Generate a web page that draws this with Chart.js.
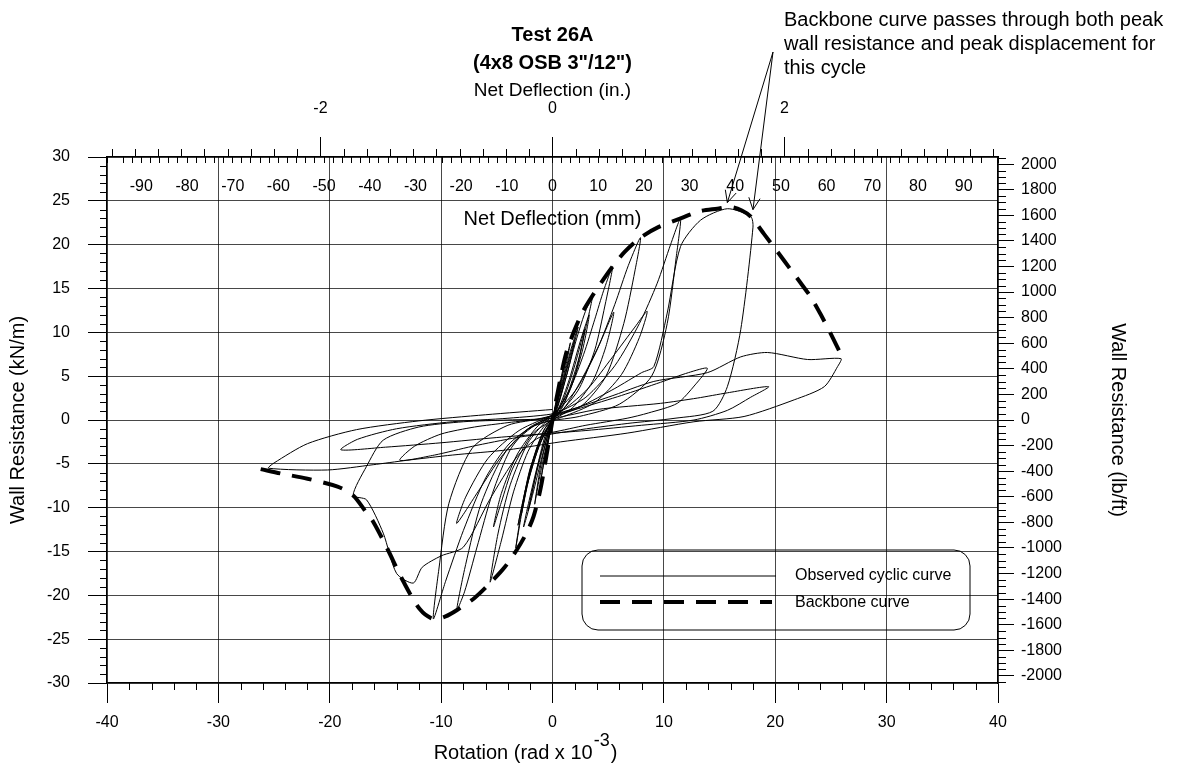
<!DOCTYPE html>
<html>
<head>
<meta charset="utf-8">
<title>Test 26A</title>
<script src="https://cdn.jsdelivr.net/npm/chart.js@4.4.1/dist/chart.umd.min.js"></script>
<style>
  html, body { margin: 0; padding: 0; background: #fff; }
  #wrap { width: 1187px; height: 771px; }
</style>
</head>
<body>
<div id="wrap"><canvas id="hysteresis" width="1187" height="771"></canvas></div>
<script>
// points are [rotation (rad x 10^-3), wall resistance (kN/m)]
var cycle1 = [[0,0],[0.3,2],[0.7,4.5],[0.5,3],[0.1,0.5],[-0.3,-2],[-0.7,-4.8],[-0.5,-3.2],[-0.1,-0.6]];
var cycle2 = [[0.4,2.5],[1.1,6.8],[0.8,4.6],[0.3,1.6],[-0.2,-0.8],[-0.6,-3.6],[-1.1,-7.2],[-0.8,-5],[-0.3,-1.8]];
var cycle3 = [[0.2,0.8],[0.8,4.5],[1.6,8.8],[1.2,6.2],[0.6,3],[0,0.3],[-0.5,-2],[-1.1,-5.5],[-1.6,-9.6],[-1.2,-6.8],[-0.6,-3.2]];
var cycle4 = [[0,-0.2],[0.9,4.2],[1.6,7.8],[2.3,10.6],[1.8,8],[1,4.5],[0.2,1],[-0.6,-1.5],[-1.3,-5],[-2.1,-10],[-2.6,-12.2],[-2.1,-9.2],[-1.3,-5],[-0.4,-1.2]];
var cycle4b = [[0.6,2.2],[1.4,6.5],[2,9.2],[1.5,6.2],[0.7,2.6],[-0.1,-0.4],[-0.9,-4],[-1.8,-8.6],[-2.2,-10.4],[-1.7,-7.4],[-0.9,-3.4],[-0.2,-0.4]];
var cycle5 = [[0.4,1.2],[1.2,4.8],[2.1,9],[2.9,12.2],[3.6,14.2],[2.9,10],[2.1,5.5],[1.1,2],[0.4,0.4],[-0.6,-1.2],[-2,-5.5],[-2.8,-10.5],[-3.3,-14.6],[-2.7,-10.2],[-1.8,-5],[-0.7,-1]];
var cycle6 = [[0.5,1.2],[1.5,4.6],[2.5,9],[3.3,12],[2.7,8],[1.6,3.5],[0.4,0.6],[-0.8,-1.2],[-2,-5.6],[-3.1,-12],[-2.4,-7.8],[-1.2,-2.5]];
var cycle6b = [[0.8,1.8],[1.9,5.8],[2.9,10.4],[2.4,7.2],[1.4,3.2],[0.2,0.4],[-1.1,-2.6],[-2.3,-7.6],[-2.8,-10.8],[-2.2,-7],[-1.2,-3],[-0.2,-0.3]];
var cycle7 = [[0.3,0.8],[1.6,3.6],[2.8,7.5],[3.8,11.5],[4.6,14.8],[5.4,17.5],[4.7,13],[3.8,8],[2.4,3.6],[0.8,1],[-0.8,-0.8],[-2.2,-3.6],[-3.5,-8.2],[-4.6,-13.8],[-5.6,-18.5],[-4.9,-13],[-3.8,-7.4],[-2.2,-2.6],[-0.6,-0.2]];
var cycle8 = [[1,1.3],[2.6,4.6],[4.2,8.6],[5.5,12.3],[4.8,8.4],[3.6,4.4],[1.8,1.4],[0,0],[-1.8,-1.6],[-3.6,-5.6],[-4.6,-9.4],[-5.3,-12.2],[-4.6,-8.4],[-3.2,-4],[-1.4,-0.8]];
var cycle9 = [[0.4,1],[2.2,3.6],[4,8],[5.6,13.2],[6.8,17.6],[7.9,20.8],[7.4,17],[6.4,11],[4.8,5],[2.6,1.6],[0,0.3],[-2,-0.8],[-3.8,-3.4],[-5.4,-8.4],[-6.8,-14.6],[-7.9,-19.6],[-8.6,-21.7],[-7.8,-16.5],[-6.4,-9.5],[-4.2,-3.6],[-1.6,-0.6]];
var cycle10 = [[1,1.2],[3.2,3.6],[5.4,7.2],[7.4,10.6],[8.5,12.4],[7.8,9.4],[6.2,5.2],[3.8,2],[0.8,0.3],[-2.2,-1],[-4.6,-4.2],[-6.6,-8],[-8.6,-11.8],[-7.8,-8.8],[-5.8,-4.4],[-3,-1.2]];
var cycle11 = [[0.4,0.8],[3,2.6],[5.6,6.2],[7.8,11],[9.4,15.6],[10.6,20],[11.5,23],[11.1,18.5],[10.3,11],[8.9,5],[6,1.8],[2.4,0.4],[-1.2,-0.4],[-3.8,-2.6],[-6,-6.6],[-8,-12.6],[-9.6,-18.4],[-10.7,-22.7],[-10.2,-17],[-9.3,-9.5],[-7.2,-3.2],[-4,-0.6]];
var cycle12 = [[-0.8,0.2],[2.6,1.4],[6.2,2.8],[9.7,4.3],[12.2,5.4],[13.9,5.9],[12.8,4],[11.2,1.9],[8.6,0.8],[6.7,0.2],[3,-0.6],[0,-1.4],[-3.2,-2],[-7.2,-3],[-10.6,-4],[-13.7,-4.6],[-12.4,-3],[-10,-1.6],[-7,-0.8],[-4,-0.3]];
var cycle13 = [[-1,0.2],[2.4,1.5],[5.6,3.6],[8,5.4],[9.1,6.1],[10.3,12.2],[11.5,19.8],[13.3,22.8],[15.7,24.1],[17.8,23.2],[18,22],[16.9,10.3],[15.7,3.8],[14.4,1],[11,0.2],[6.7,-0.4],[2,-1.2],[-1.2,-2],[-3.2,-4.2],[-5.6,-9],[-8,-14.5],[-10,-15.5],[-11.7,-16.8],[-12.5,-18.6],[-14,-17.5],[-15.2,-12.9],[-16.7,-9.1],[-17.9,-8.6],[-16.7,-5.3],[-15.2,-2.3],[-12,-0.8],[-8,-0.2],[-4,0]];
var cycle14 = [[0,0.2],[4,1.2],[9.7,1.9],[13,2.5],[15.7,3.1],[19.4,3.8],[17.8,2.6],[15.7,1.1],[12.7,0],[8,-0.6],[3,-1.2],[-1,-1.6],[-5,-2],[-10,-2.6],[-15,-3.1],[-19,-3.4],[-17.5,-2.2],[-14,-1],[-9,-0.2],[-4,0.2]];
var cycle15 = [[0.5,0.8],[5,2.6],[9.1,4.4],[13.9,5.4],[16.9,7.2],[19.3,7.7],[22.9,6.9],[25.9,7],[25.6,6.1],[24.4,3.8],[21.7,2.3],[17.2,0.4],[12.7,-0.2],[6.7,-1.5],[0.7,-2.5],[-4,-3.4],[-9,-4],[-13.1,-4.6],[-16.1,-5.1],[-20.2,-5.7],[-25.5,-5.5],[-25,-4.9],[-22,-2.7],[-17.6,-1.1],[-12,-0.1],[-6,0.6],[0,1.2]];

var backboneNeg = [[-26.2,-5.6],[-24.4,-6.1],[-22,-6.7],[-19.3,-7.6],[-17.9,-8.6],[-16.8,-10.4],[-16.1,-11.6],[-14.9,-14.5],[-13.4,-18.4],[-11.9,-21.6],[-10.7,-22.7],[-9.6,-22.4],[-8.6,-21.7],[-7,-20.3],[-5.6,-18.6],[-4.3,-16.8],[-3.2,-14.8],[-2.3,-12.8],[-1.7,-11],[-1.1,-8],[-0.6,-4.5]];
var backbonePos = [[0,0],[0.6,4],[1.2,7.5],[1.9,10],[2.7,12.3],[3.6,14.2],[4.5,15.9],[5.4,17.5],[6.5,19.2],[7.9,20.8],[9.5,22],[11.5,23],[13.2,23.8],[14.8,24.1],[16,24.3],[17,23.9],[17.8,23.2],[19,21.2],[20.2,19.2],[21.3,17.3],[22.3,15.6],[23.2,14],[24.1,12],[25,9.8],[26,7.2]];

// the two points the note arrows point at
var arrowTargets = [[15.7,24.8],[18.0,24.0]];

var titleLines = ['Test 26A', '(4x8 OSB 3"/12")'];
var noteLines = ['Backbone curve passes through both peak', 'wall resistance and peak displacement for', 'this cycle'];
var legendLabels = ['Observed cyclic curve', 'Backbone curve'];

var MM_PER_ROT = 2.438;     // 8 ft wall: 1e-3 rad = 2.438 mm
var MM_PER_IN = 25.4;
var LBFT_PER_KNM = 68.52;

var FONT = '"Liberation Sans", Arial, sans-serif';
Chart.defaults.font.family = FONT;
Chart.defaults.color = '#000';

function toPoints(list) {
    return list.map(function(p) { return {x: p[0], y: p[1]}; });
}

var cyclic = [].concat(cycle1, cycle2, cycle3, cycle4, cycle4b, cycle5, cycle6, cycle6b, cycle7, cycle8,
    cycle9, cycle10, cycle11, cycle12, cycle13, cycle14, cycle15);
var backbone = backboneNeg.concat(backbonePos);

var gridColor = 'rgba(0,0,0,0.72)';
var frame = {display: true, color: '#000', width: 1.2};

var extras = {
    id: 'extras',
    afterDraw: function(chart) {
        var ctx = chart.ctx, a = chart.chartArea, s = chart.scales;
        ctx.save();

        // minor tick marks
        ctx.strokeStyle = '#000';
        ctx.lineWidth = 1;
        ctx.beginPath();
        for (var r = -38; r <= 38; r += 2) {
            if (r % 10 === 0) continue;
            var px = Math.round(s.x.getPixelForValue(r)) + 0.5;
            ctx.moveTo(px, a.bottom); ctx.lineTo(px, a.bottom + 7);
        }
        for (var k = -29; k <= 29; k++) {
            if (k % 5 === 0) continue;
            var py = Math.round(s.y.getPixelForValue(k)) + 0.5;
            ctx.moveTo(a.left - 7, py); ctx.lineTo(a.left, py);
        }
        for (var f = -2050; f <= 2050; f += 50) {
            if (f % 200 === 0) continue;
            var py2 = Math.round(s.y2.getPixelForValue(f)) + 0.5;
            ctx.moveTo(a.right, py2); ctx.lineTo(a.right + 8, py2);
        }
        for (var i = -19; i <= 19; i++) {
            if (i % 10 === 0) continue;
            var pxi = Math.round(s.xin.getPixelForValue(i / 5)) + 0.5;
            ctx.moveTo(pxi, a.top - 8); ctx.lineTo(pxi, a.top);
        }
        ctx.stroke();

        // bottom axis title with the superscript
        ctx.fillStyle = '#000';
        ctx.textAlign = 'left';
        ctx.textBaseline = 'alphabetic';
        var main = 'Rotation (rad x 10', sup = '-3', close = ')';
        ctx.font = '20px ' + FONT;
        var wMain = ctx.measureText(main).width, wClose = ctx.measureText(close).width;
        ctx.font = '18px ' + FONT;
        var wSup = ctx.measureText(sup).width;
        var x0 = (a.left + a.right) / 2 - 28 - (wMain + wSup + wClose) / 2;
        ctx.font = '20px ' + FONT;
        ctx.fillText(main, x0, 759);
        ctx.font = '18px ' + FONT;
        ctx.fillText(sup, x0 + wMain + 1, 746);
        ctx.font = '20px ' + FONT;
        ctx.fillText(close, x0 + wMain + wSup + 2, 759);

        // note and arrows
        ctx.textBaseline = 'middle';
        noteLines.forEach(function(t, n) { ctx.fillText(t, 784, 20 + n * 24); });
        ctx.lineWidth = 1;
        arrowTargets.forEach(function(t) {
            var tx = s.x.getPixelForValue(t[0]), ty = s.y.getPixelForValue(t[1]);
            var sx = 773, sy = 52;
            var ang = Math.atan2(ty - sy, tx - sx);
            ctx.beginPath();
            ctx.moveTo(sx, sy); ctx.lineTo(tx, ty);
            ctx.moveTo(tx - 13 * Math.cos(ang - 0.45), ty - 13 * Math.sin(ang - 0.45));
            ctx.lineTo(tx, ty);
            ctx.lineTo(tx - 13 * Math.cos(ang + 0.45), ty - 13 * Math.sin(ang + 0.45));
            ctx.stroke();
        });

        // legend box
        ctx.lineWidth = 1;
        ctx.beginPath();
        ctx.roundRect(582, 550, 388, 80, 16);
        ctx.stroke();
        ctx.beginPath();
        ctx.moveTo(600, 576); ctx.lineTo(776, 576);
        ctx.lineWidth = 1;
        ctx.stroke();
        ctx.beginPath();
        ctx.setLineDash([20, 12]);
        ctx.lineWidth = 4;
        ctx.moveTo(600, 602); ctx.lineTo(772, 602);
        ctx.stroke();
        ctx.setLineDash([]);
        ctx.font = '16px ' + FONT;
        ctx.fillText(legendLabels[0], 795, 576);
        ctx.fillText(legendLabels[1], 795, 603);
        ctx.restore();
    }
};

var config = {
    type: 'line',
    data: {
        datasets: [{
            label: legendLabels[1],
            data: toPoints(backbone),
            borderColor: '#000',
            borderWidth: 4,
            borderDash: [20, 12],
            pointRadius: 0,
            tension: 0.3,
            fill: false
        }, {
            label: legendLabels[0],
            data: toPoints(cyclic),
            borderColor: '#000',
            borderWidth: 1,
            pointRadius: 0,
            tension: 0.25,
            fill: false
        }]
    },
    options: {
        responsive: false,
        animation: false,
        devicePixelRatio: 1,
        layout: {padding: 0},
        plugins: {
            legend: {display: false},
            tooltip: {enabled: false},
            title: {
                display: true,
                text: titleLines,
                fullSize: false,
                font: {size: 20, weight: 'bold', lineHeight: 1.4},
                padding: {top: 21, bottom: 0}
            }
        },
        scales: {
            x: {
                type: 'linear', position: 'bottom', min: -40, max: 40,
                ticks: {stepSize: 10, padding: 10, maxRotation: 0, font: {size: 16}},
                grid: {color: gridColor, tickColor: '#000', tickLength: 20},
                border: frame,
                afterFit: function(sc) { sc.height = 88; }
            },
            xmm: {
                type: 'linear', position: 'top', weight: 0,
                min: -40 * MM_PER_ROT, max: 40 * MM_PER_ROT,
                ticks: {
                    stepSize: 2, autoSkip: false, maxRotation: 0, mirror: true, padding: 20,
                    font: {size: 16},
                    callback: function(v) {
                        var r = Math.round(v);
                        return (Math.abs(v - r) < 1e-6 && r % 10 === 0) ? String(r) : '';
                    }
                },
                grid: {drawOnChartArea: false, tickLength: -6, tickColor: '#000'},
                border: frame,
                title: {display: true, text: 'Net Deflection (mm)', font: {size: 20}, padding: {top: 50, bottom: 0}},
                afterFit: function(sc) { sc.height = 0; }
            },
            xin: {
                type: 'linear', position: 'top', weight: 1,
                min: -40 * MM_PER_ROT / MM_PER_IN, max: 40 * MM_PER_ROT / MM_PER_IN,
                ticks: {stepSize: 2, includeBounds: false, padding: 19, maxRotation: 0, font: {size: 16}},
                grid: {drawOnChartArea: false, tickLength: 20, tickColor: '#000'},
                border: {display: false},
                title: {display: true, text: 'Net Deflection (in.)', font: {size: 19}, padding: {top: 2, bottom: 0}},
                afterFit: function(sc) { sc.height = 80; }
            },
            y: {
                type: 'linear', position: 'left', min: -30, max: 30,
                ticks: {stepSize: 5, padding: 18, font: {size: 16}},
                grid: {color: gridColor, tickColor: '#000', tickLength: 19},
                border: frame,
                title: {display: true, text: 'Wall Resistance (kN/m)', font: {size: 20}, padding: {top: 6, bottom: 0}},
                afterFit: function(sc) { sc.width = 107; }
            },
            y2: {
                type: 'linear', position: 'right',
                min: -30 * LBFT_PER_KNM, max: 30 * LBFT_PER_KNM,
                ticks: {
                    stepSize: 200, includeBounds: false, padding: 7, font: {size: 16},
                    callback: function(v) { return String(v); }
                },
                grid: {drawOnChartArea: false, tickColor: '#000', tickLength: 16},
                border: frame,
                title: {display: true, text: 'Wall Resistance (lb/ft)', font: {size: 20}, padding: {top: 57, bottom: 0}},
                afterFit: function(sc) { sc.width = 189; }
            }
        }
    },
    plugins: [extras]
};

var ctx = document.getElementById('hysteresis').getContext('2d');
var hysteresisChart = new Chart(ctx, config);
</script>
</body>
</html>
